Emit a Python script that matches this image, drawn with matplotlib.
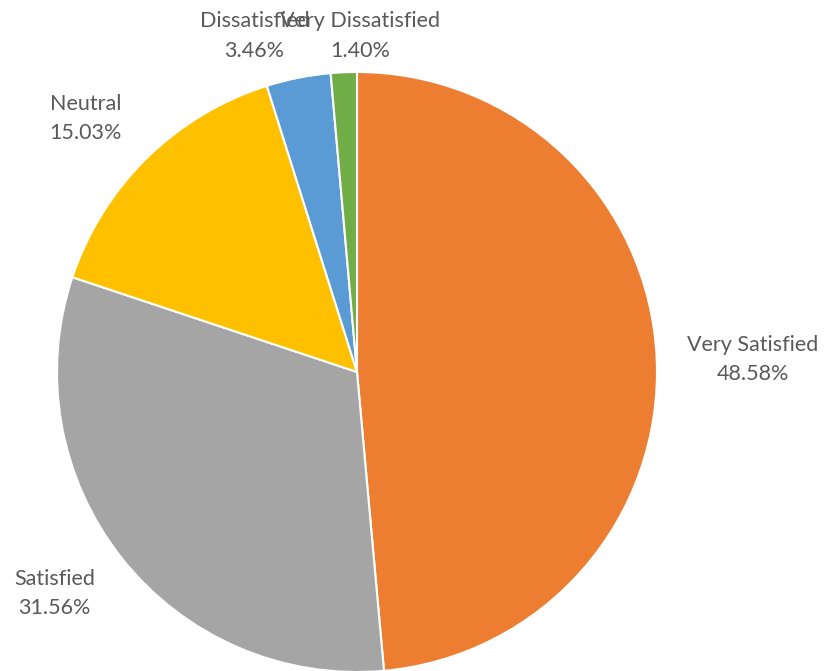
import matplotlib
matplotlib.use("Agg")
import matplotlib.pyplot as plt
import numpy as np

categories = ["Very Satisfied", "Satisfied", "Neutral", "Dissatisfied", "Very Dissatisfied"]
values = [48.58, 31.56, 15.03, 3.46, 1.40]
colors = ["#ED7D31", "#A5A5A5", "#FFC000", "#5B9BD5", "#70AD47"]

# label placement (radius factor, angle offset in degrees) per slice
label_r = [1.321, 1.25, 1.238, 1.170, 1.12]
label_da = [-0.8, -2.2, 2.4, 5.7, -3.0]

plt.rcParams['font.family'] = ['Lato', 'DejaVu Sans']

fig = plt.figure(figsize=(8.32, 6.71), dpi=100)
ax = fig.add_axes([0, 0, 1, 1])

wedges, _ = ax.pie(values, colors=colors, startangle=90, counterclock=False,
                   radius=1.0, wedgeprops=dict(edgecolor='white', linewidth=1.5))

for w, cat, v, r, da in zip(wedges, categories, values, label_r, label_da):
    mid = np.deg2rad((w.theta1 + w.theta2) / 2 + da)
    ax.text(r * np.cos(mid), r * np.sin(mid), f"{cat}\n{v:.2f}%",
            ha='center', va='center', fontsize=15.5, color='#595959', linespacing=1.6)

ax.set_xlim(-357 / 300, (832 - 357) / 300)
ax.set_ylim(-299 / 300, 372 / 300)
ax.set_aspect('auto')
ax.axis('off')

fig.savefig("out.png", dpi=100, facecolor='white')
